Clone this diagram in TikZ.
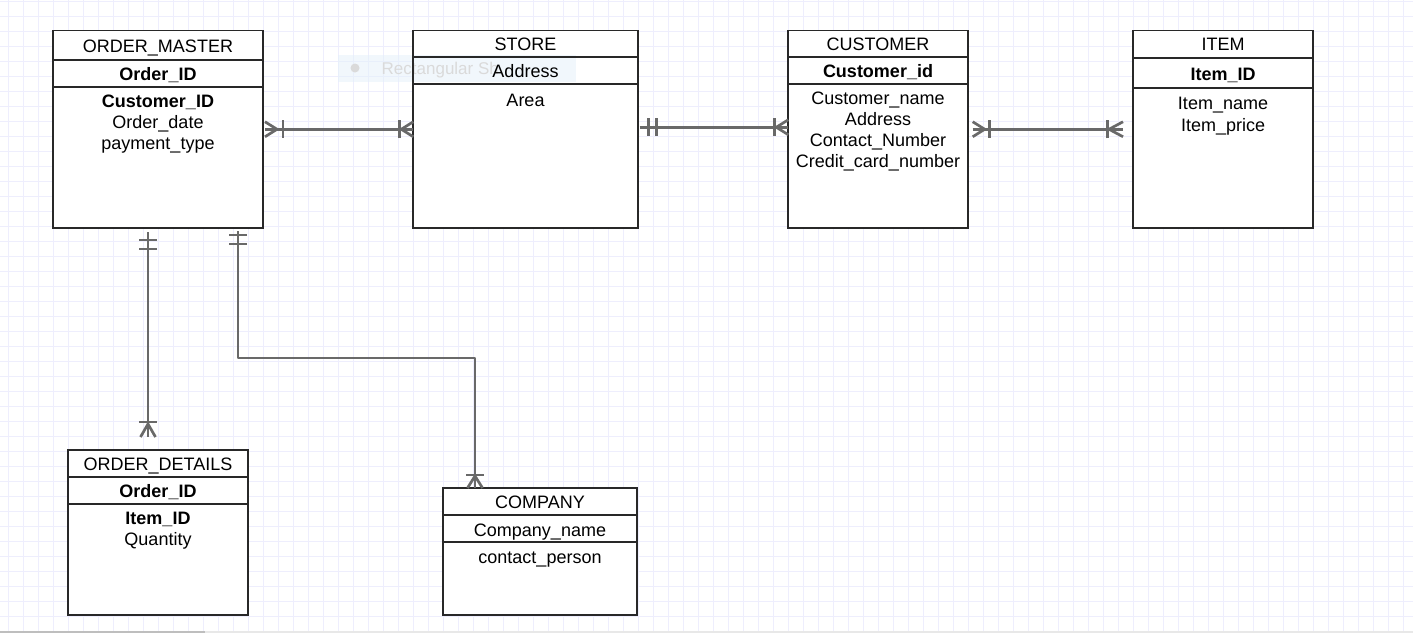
\documentclass[tikz,border=0pt]{standalone}
\usepackage{fontspec}
\setmainfont{Liberation Sans}
\usetikzlibrary{calc}
\definecolor{gridc}{RGB}{238,238,253}
\definecolor{boxc}{RGB}{40,40,40}
\definecolor{connc}{RGB}{105,105,105}
\definecolor{tipbg}{RGB}{228,240,251}
\definecolor{tiptext}{RGB}{218,218,218}
\definecolor{sbdark}{RGB}{190,190,190}
\definecolor{sblight}{RGB}{232,232,232}
\pgfdeclarelayer{bg}
\pgfdeclarelayer{fills}
\pgfdeclarelayer{tip}
\pgfsetlayers{bg,fills,tip,main}
\tikzset{
  ebox/.style={draw=boxc,line width=1.9pt,inner sep=0pt,outer sep=0pt},
  eline/.style={draw=boxc,line width=1.9pt},
  txt/.style={inner sep=0pt,anchor=base,font=\fontsize{18}{21}\selectfont,text=black},
  keytxt/.style={txt,font=\fontsize{18}{21}\selectfont\bfseries},
  conn/.style={draw=connc,line width=2.7pt,line join=round},
  gridline/.style={draw=gridc,line width=1pt},
  pics/crowbar/.style 2 args={code={
    \draw[conn] (0,-7.5) -- (#1,0) -- (0,7.5);
    \draw[conn] (#2,-9) -- (#2,9);
  }},
  pics/twobar/.style 2 args={code={
    \draw[conn] (#1,-9) -- (#1,9);
    \draw[conn] (#2,-9) -- (#2,9);
  }}
}
\begin{document}
\begin{tikzpicture}[x=1pt,y=-1pt]
\useasboundingbox (0,0) rectangle (1413,633);
\begin{pgfonlayer}{bg}
  \fill[white] (0,0) rectangle (1413,633);
  \foreach \i in {0,...,94} {\draw[gridline] (8.3+15*\i,0) -- (8.3+15*\i,633);}
  \foreach \i in {0,...,42} {\draw[gridline] (0,1.7+15*\i) -- (1413,1.7+15*\i);}
  \fill[sbdark] (0,630.7) rectangle (205,633);
  \fill[sblight] (205,630.7) rectangle (1413,633);
\end{pgfonlayer}

% entity boxes
\node[ebox,minimum width=210pt,minimum height=197.5pt] (om) at (158,129.25) {};
\node[ebox,minimum width=224.4pt,minimum height=197.5pt] (st) at (525.5,129.25) {};
\node[ebox,minimum width=179.4pt,minimum height=197.5pt] (cu) at (878,129.25) {};
\node[ebox,minimum width=180pt,minimum height=197.5pt] (it) at (1223,129.25) {};
\node[ebox,minimum width=180pt,minimum height=165pt] (od) at (158,532.5) {};
\node[ebox,minimum width=194pt,minimum height=127pt] (co) at (540,551.5) {};

\begin{pgfonlayer}{fills}
  \foreach \b in {om,st,cu,it,od,co} {\fill[white] (\b.north west) rectangle (\b.south east);}
\end{pgfonlayer}

\begin{pgfonlayer}{tip}
  \fill[tipbg,opacity=0.5] (338,55) rectangle (576,82);
  \fill[tiptext] (355,68) circle (4.5);
  \begin{scope}
    \clip (370,55) rectangle (505,82);
    \node[anchor=base west,inner sep=0pt,text=tiptext,font=\fontsize{17}{20}\selectfont] (tiptxt) at (381.5,74.5) {Rectangular Sh};
  \end{scope}
\end{pgfonlayer}

% dividers
\draw[eline] (53,60) -- (263,60);
\draw[eline] (53,86.7) -- (263,86.7);
\draw[eline] (413.3,57.3) -- (637.7,57.3);
\draw[eline] (413.3,84) -- (637.7,84);
\draw[eline] (788.3,57.3) -- (967.7,57.3);
\draw[eline] (788.3,84.3) -- (967.7,84.3);
\draw[eline] (1133,58) -- (1313,58);
\draw[eline] (1133,88) -- (1313,88);
\draw[eline] (68,477) -- (248,477);
\draw[eline] (68,504) -- (248,504);
\draw[eline] (443,515) -- (637,515);
\draw[eline] (443,542) -- (637,542);

% ORDER_MASTER
\node[txt] (omh) at (158,52) {ORDER\_MASTER};
\node[keytxt] (omk) at (158,80) {Order\_ID};
\node[keytxt] (om1) at (158,107) {Customer\_ID};
\node[txt] (om2) at (158,128) {Order\_date};
\node[txt] (om3) at (158,149) {payment\_type};
% STORE
\node[txt] (sth) at (525.5,50) {STORE};
\node[txt] (stk) at (525.5,77) {Address};
\node[txt] (st1) at (525.5,106) {Area};
% CUSTOMER
\node[txt] (cuh) at (878,50) {CUSTOMER};
\node[keytxt] (cuk) at (878,77) {Customer\_id};
\node[txt] (cu1) at (878,104.3) {Customer\_name};
\node[txt] (cu2) at (878,125.3) {Address};
\node[txt] (cu3) at (878,146) {Contact\_Number};
\node[txt] (cu4) at (878,167) {Credit\_card\_number};
% ITEM
\node[txt] (ith) at (1223,50) {ITEM};
\node[keytxt] (itk) at (1223,80) {Item\_ID};
\node[txt] (it1) at (1223,109.5) {Item\_name};
\node[txt] (it2) at (1223,131) {Item\_price};
% ORDER_DETAILS
\node[txt] (odh) at (158,470) {ORDER\_DETAILS};
\node[keytxt] (odk) at (158,497) {Order\_ID};
\node[keytxt] (od1) at (158,524.5) {Item\_ID};
\node[txt] (od2) at (158,545.5) {Quantity};
% COMPANY
\node[txt] (coh) at (540,508) {COMPANY};
\node[txt] (cok) at (540,536) {Company\_name};
\node[txt] (co1) at (540,563) {contact\_person};

% connectors
\coordinate (c1a) at ($(om.east)+(2,0)$);
\coordinate (c1b) at (st.west);
\draw[conn] (c1a) -- (c1b);
\pic at (c1a) {crowbar={12}{18}};
\pic[rotate=180] at (c1b) {crowbar={12}{14}};

\coordinate (c2a) at ($(st.east)+(0,-2)$);
\coordinate (c2b) at ($(cu.west)+(0,-2)$);
\draw[conn] ($(c2a)+(2,0)$) -- (c2b);
\pic at (c2a) {twobar={11}{19}};
\pic[rotate=180] at (c2b) {crowbar={12}{14}};

\coordinate (c3a) at ($(cu.east)+(5,0)$);
\coordinate (c3b) at ($(it.west)+(-10,0)$);
\draw[conn] (c3a) -- (c3b);
\pic at (c3a) {crowbar={12}{17}};
\pic[rotate=180] at (c3b) {crowbar={14}{15.3}};

\coordinate (c4a) at ($(om.south)+(-10,0)$);
\coordinate (c4b) at ($(od.north)+(-10,-13)$);
\draw[conn] ($(c4a)+(0,4)$) -- (c4b);
\pic[rotate=-90] at (c4a) {twobar={12}{21}};
\pic[rotate=90] at (c4b) {crowbar={13}{15}};

\coordinate (c5a) at ($(om.south)+(80,0)$);
\coordinate (c5k) at (300,358);
\coordinate (c5b) at ($(co.north)+(-65,0)$);
\draw[conn] ($(c5a)+(0,3)$) -- (c5a |- c5k) -- (c5k -| c5b) -- (c5b);
\pic[rotate=-90] at (c5a) {twobar={7}{16}};
\pic[rotate=90] at (c5b) {crowbar={12}{13}};
\end{tikzpicture}
\end{document}
